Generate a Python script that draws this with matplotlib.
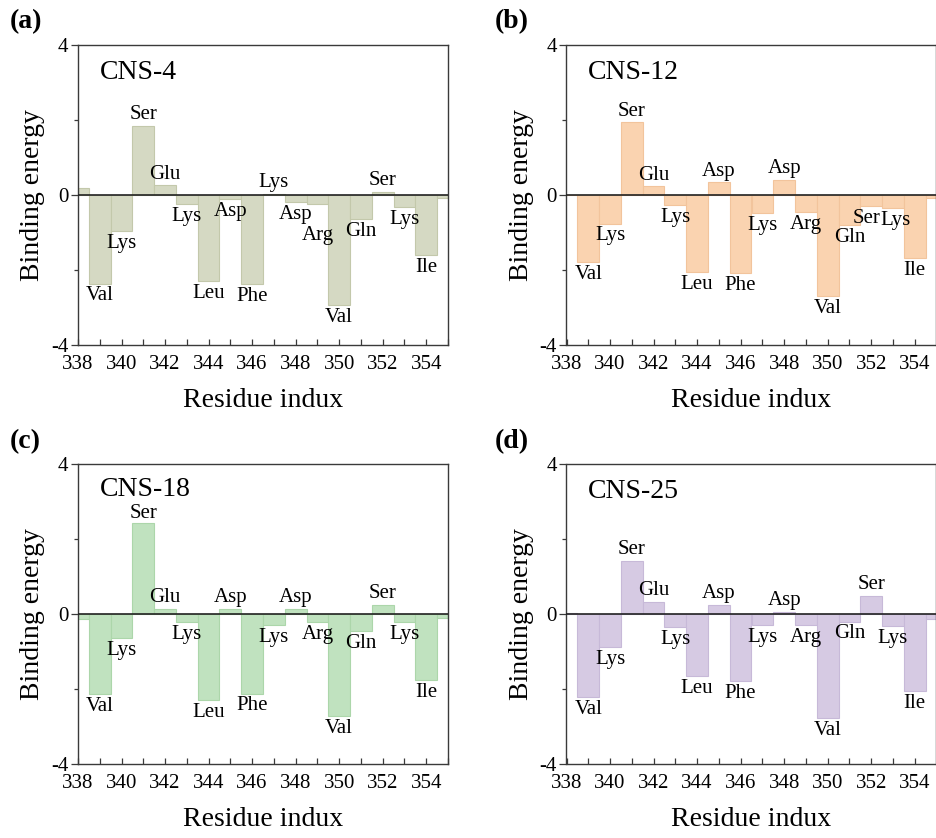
import matplotlib
matplotlib.use("Agg")
import matplotlib.pyplot as plt
from matplotlib.ticker import MultipleLocator
import numpy as np

plt.rcParams['font.family'] = ['Liberation Serif', 'DejaVu Serif']
plt.rcParams['axes.unicode_minus'] = False

# ---------------- data ----------------
residue_index = list(range(338, 356))          # 338 .. 355
residue_names = ["", "Val", "Lys", "Ser", "Glu", "Lys", "Leu", "Asp", "Phe",
                 "Lys", "Asp", "Arg", "Val", "Gln", "Ser", "Lys", "Ile", ""]

panel_tags = ["(a)", "(b)", "(c)", "(d)"]
compounds = ["CNS-4", "CNS-12", "CNS-18", "CNS-25"]

energy_cns4 = [0.20, -2.36, -0.97, 1.84, 0.26, -0.23, -2.29, -0.10, -2.38,
               0.04, -0.19, -0.24, -2.94, -0.65, 0.09, -0.32, -1.61, -0.09]
energy_cns12 = [0.00, -1.78, -0.76, 1.94, 0.23, -0.27, -2.05, 0.34, -2.09,
                -0.47, 0.41, -0.45, -2.70, -0.79, -0.30, -0.35, -1.67, -0.09]
energy_cns18 = [-0.12, -2.13, -0.63, 2.44, 0.13, -0.22, -2.29, 0.13, -2.12,
                -0.29, 0.13, -0.21, -2.72, -0.46, 0.25, -0.21, -1.76, -0.10]
energy_cns25 = [0.04, -2.22, -0.88, 1.42, 0.32, -0.35, -1.65, 0.25, -1.78,
                -0.29, 0.06, -0.29, -2.78, -0.20, 0.49, -0.32, -2.06, -0.13]
energies = [energy_cns4, energy_cns12, energy_cns18, energy_cns25]

fill_colors = ["#d5d9c3", "#fad3b0", "#c0e2bf", "#d6cae3"]
edge_colors = ["#c3c8ab", "#f2c49c", "#acd6aa", "#c7b9d8"]

# nudges for crowded labels: (panel, residue) -> (dx, dy)
label_shift = {(0, 349): (0.0, -0.50),
               (1, 352): (-0.2, 0.0),
               (1, 353): (0.1, 0.0),
               (2, 341): (0.0, -0.05)}
title_y = [3.27, 3.27, 3.33, 3.27]

# ---------------- layout ----------------
W, H = 937, 838
fig = plt.figure(figsize=(W / 100, H / 100), dpi=100)

ax_w = 370 / W
ax_h = 300 / H
lefts = [78 / W, 566.5 / W, 78 / W, 566.5 / W]
bottoms = [1 - 345 / H, 1 - 345 / H, 1 - 764 / H, 1 - 764 / H]
tag_pos = [(10 / W, 1 - 22 / H), (495 / W, 1 - 22 / H),
           (10 / W, 1 - 442 / H), (495 / W, 1 - 442 / H)]

spine_col = "#3a3a3a"

for i in range(4):
    ax = fig.add_axes([lefts[i], bottoms[i], ax_w, ax_h])
    vals = energies[i]
    ax.bar(residue_index, vals, width=1.0, align='center',
           color=fill_colors[i], edgecolor=edge_colors[i], linewidth=0.8,
           zorder=2)
    ax.axhline(0, color="#222222", linewidth=1.2, zorder=3)
    ax.set_xlim(338, 355)
    ax.set_ylim(-4, 4)
    ax.set_yticks([-4, 0, 4])
    ax.yaxis.set_minor_locator(MultipleLocator(2))
    ax.set_xticks(list(range(338, 356, 2)))
    ax.xaxis.set_minor_locator(MultipleLocator(1))
    ax.tick_params(axis='x', which='both', direction='in', length=4,
                   width=0.9, color=spine_col, labelsize=15, pad=7)
    ax.tick_params(axis='y', which='major', direction='out', length=5,
                   width=0.9, color=spine_col, labelsize=15, pad=2)
    ax.tick_params(axis='y', which='minor', direction='out', length=3,
                   width=0.9, color=spine_col)
    for s in ax.spines.values():
        s.set_color(spine_col)
        s.set_linewidth(1.0)

    for x, v, name in zip(residue_index, vals, residue_names):
        if not name:
            continue
        if v >= 0:
            y = v + 0.30
        else:
            y = v - 0.33
        dx, dy = label_shift.get((i, x), (0.0, 0.0))
        ax.text(x + dx, y + dy, name, ha='center', va='center', fontsize=15,
                zorder=4)

    ax.text(339.0, title_y[i], compounds[i], ha='left', va='center',
            fontsize=20)
    ax.set_xlabel("Residue indux", fontsize=20, labelpad=10)
    ax.set_ylabel("Binding energy", fontsize=20, labelpad=4)

    fig.text(tag_pos[i][0], tag_pos[i][1], panel_tags[i], fontsize=20,
             fontweight='bold', ha='left', va='center')

fig.savefig("out.png", dpi=100)
